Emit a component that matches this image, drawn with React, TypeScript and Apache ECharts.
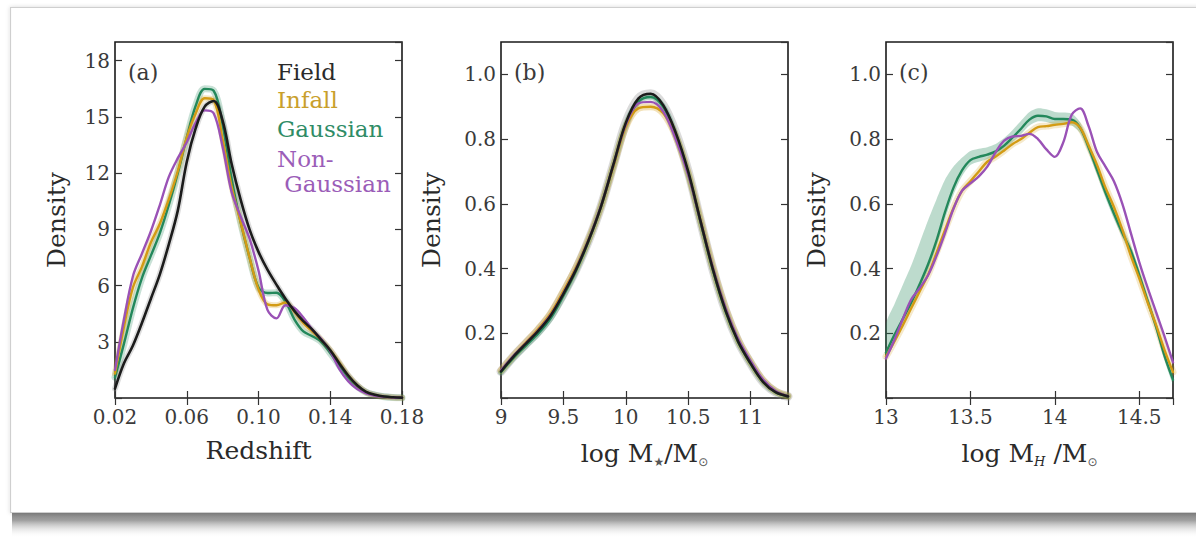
import React, { useEffect, useRef } from 'react';
import * as echarts from 'echarts';

// ---------- Panel (a): Redshift ----------
const Z_GRID = [0.020, 0.025, 0.030, 0.035, 0.040, 0.045, 0.050, 0.055, 0.060, 0.065, 0.070, 0.075, 0.080, 0.085, 0.090, 0.095, 0.100, 0.105, 0.110, 0.115, 0.120, 0.125, 0.130, 0.135, 0.140, 0.145, 0.150, 0.155, 0.160, 0.165, 0.170, 0.175, 0.180];
const FIELD_A = [0.5, 1.85, 2.8, 4.0, 5.3, 6.6, 8.2, 10.0, 12.6, 14.4, 15.55, 15.85, 14.8, 12.5, 10.6, 9.0, 7.8, 6.85, 6.05, 5.3, 4.65, 4.1, 3.65, 3.1, 2.55, 1.85, 1.2, 0.68, 0.33, 0.17, 0.08, 0.04, 0.02];
const INFALL_A = [1.3, 3.8, 5.9, 7.0, 8.3, 9.3, 10.6, 12.1, 13.9, 15.2, 16.0, 15.9, 13.8, 11.3, 9.4, 7.5, 5.8, 5.0, 4.95, 5.1, 4.6, 4.0, 3.55, 3.1, 2.55, 1.9, 1.2, 0.68, 0.3, 0.14, 0.06, 0.03, 0.01];
const GAUSS_A = [1.1, 2.9, 4.8, 6.4, 7.6, 8.8, 10.3, 12.0, 13.9, 15.6, 16.5, 16.4, 14.6, 11.7, 9.4, 7.5, 5.9, 5.6, 5.62, 5.15, 4.2, 3.55, 3.3, 3.0, 2.4, 1.75, 1.1, 0.62, 0.3, 0.15, 0.07, 0.03, 0.01];
const NONG_A = [1.5, 4.2, 6.5, 7.7, 8.9, 10.3, 11.8, 12.8, 13.65, 14.7, 15.35, 15.2, 13.4, 11.0, 9.7, 8.5, 6.8, 4.7, 4.25, 4.95, 4.8, 4.3, 3.65, 3.15, 2.5, 1.55, 0.9, 0.48, 0.25, 0.12, 0.06, 0.03, 0.01];

// ---------- Panel (b): stellar mass ----------
const MS_GRID = [9.0, 9.1, 9.2, 9.3, 9.4, 9.5, 9.6, 9.7, 9.8, 9.9, 10.0, 10.1, 10.2, 10.3, 10.4, 10.5, 10.6, 10.7, 10.8, 10.9, 11.0, 11.1, 11.2, 11.3];
const FIELD_B = [0.082, 0.128, 0.168, 0.208, 0.256, 0.322, 0.396, 0.485, 0.59, 0.72, 0.85, 0.925, 0.94, 0.905, 0.82, 0.70, 0.545, 0.395, 0.27, 0.175, 0.107, 0.05, 0.018, 0.005];
const INFALL_B = [0.085, 0.13, 0.172, 0.214, 0.263, 0.33, 0.402, 0.488, 0.59, 0.715, 0.838, 0.895, 0.9, 0.88, 0.81, 0.695, 0.548, 0.4, 0.276, 0.18, 0.111, 0.055, 0.021, 0.006];
const GAUSS_B = [0.08, 0.124, 0.162, 0.2, 0.248, 0.316, 0.392, 0.483, 0.59, 0.718, 0.845, 0.915, 0.93, 0.9, 0.815, 0.695, 0.542, 0.393, 0.268, 0.174, 0.106, 0.05, 0.018, 0.005];
const NONG_B = [0.086, 0.13, 0.17, 0.21, 0.258, 0.324, 0.398, 0.487, 0.592, 0.72, 0.845, 0.91, 0.915, 0.885, 0.80, 0.69, 0.545, 0.4, 0.278, 0.183, 0.115, 0.057, 0.022, 0.006];

// ---------- Panel (c): halo mass ----------
const MH_GRID = [13.00, 13.05, 13.10, 13.15, 13.20, 13.25, 13.30, 13.35, 13.40, 13.45, 13.50, 13.55, 13.60, 13.65, 13.70, 13.75, 13.80, 13.85, 13.90, 13.95, 14.00, 14.05, 14.10, 14.15, 14.20, 14.25, 14.30, 14.35, 14.40, 14.45, 14.50, 14.55, 14.60, 14.65, 14.70];
const INFALL_C = [0.128, 0.175, 0.225, 0.278, 0.33, 0.382, 0.45, 0.52, 0.587, 0.64, 0.67, 0.70, 0.73, 0.746, 0.765, 0.785, 0.80, 0.82, 0.837, 0.84, 0.844, 0.847, 0.852, 0.835, 0.78, 0.72, 0.65, 0.59, 0.52, 0.44, 0.37, 0.295, 0.225, 0.148, 0.08];
const GAUSS_C = [0.14, 0.195, 0.245, 0.295, 0.352, 0.414, 0.488, 0.575, 0.65, 0.703, 0.735, 0.745, 0.752, 0.762, 0.78, 0.805, 0.832, 0.86, 0.872, 0.87, 0.862, 0.862, 0.86, 0.835, 0.775, 0.705, 0.635, 0.57, 0.51, 0.455, 0.38, 0.30, 0.22, 0.13, 0.056];
const GAUSS_C_LO = [0.125, 0.178, 0.228, 0.28, 0.335, 0.395, 0.468, 0.552, 0.628, 0.685, 0.72, 0.73, 0.738, 0.748, 0.765, 0.79, 0.815, 0.842, 0.855, 0.853, 0.845, 0.845, 0.842, 0.818, 0.758, 0.688, 0.618, 0.553, 0.495, 0.44, 0.365, 0.285, 0.205, 0.115, 0.042];
const GAUSS_C_HI = [0.23, 0.29, 0.35, 0.41, 0.48, 0.55, 0.615, 0.675, 0.715, 0.742, 0.763, 0.77, 0.775, 0.785, 0.803, 0.828, 0.857, 0.884, 0.895, 0.892, 0.884, 0.882, 0.879, 0.852, 0.792, 0.722, 0.652, 0.588, 0.528, 0.472, 0.397, 0.317, 0.237, 0.147, 0.072];
const NONG_C = [0.122, 0.18, 0.245, 0.305, 0.34, 0.38, 0.44, 0.51, 0.585, 0.64, 0.663, 0.685, 0.715, 0.76, 0.795, 0.808, 0.81, 0.816, 0.80, 0.768, 0.745, 0.79, 0.875, 0.895, 0.84, 0.76, 0.715, 0.67, 0.60, 0.51, 0.42, 0.34, 0.265, 0.19, 0.11];

// ---------- Tick / label lists ----------
const X_TICKS_A = [0.02, 0.06, 0.10, 0.14, 0.18];
const Y_TICKS_A = [3, 6, 9, 12, 15, 18];
const X_TICKS_B = [9, 9.5, 10, 10.5, 11];
const X_TICKS_C = [13, 13.5, 14, 14.5];
const Y_TICKS_BC = [0.2, 0.4, 0.6, 0.8, 1.0];
const LEGEND = ['Field', 'Infall', 'Gaussian', 'Non-', ' Gaussian'];
const PANEL_LABELS = ['(a)', '(b)', '(c)'];

const FONT = '"DejaVu Serif", "Liberation Serif", serif';
const C_FIELD = '#1c1c1c';
const C_INFALL = '#d39b14';
const C_GAUSS = '#23885b';
const C_NONG = '#9a52b6';
const TXT = '#3a3a3a';

const GRIDS = [
  { left: 115, top: 42, width: 287, height: 356 },
  { left: 501, top: 42, width: 287, height: 356 },
  { left: 886, top: 42, width: 287, height: 356 },
];

const pairs = (xs: number[], ys: number[]) => xs.map((x, i) => [x, ys[i]]);

function buildOption() {
  const grid = GRIDS.map((g) => ({
    ...g,
    show: true,
    borderColor: '#1a1a1a',
    borderWidth: 1.6,
    backgroundColor: 'transparent',
    outerBoundsMode: 'none',
  }));

  const tickStyle = { show: true, inside: true, length: 7, lineStyle: { color: '#333', width: 1.2 } };
  const labelStyle = { fontFamily: FONT, fontSize: 20, color: TXT };
  const nameStyle = { fontFamily: FONT, fontSize: 25, color: '#2a2a2a' };

  const xCfg = [
    { min: 0.02, max: 0.18, interval: 0.04, ticks: X_TICKS_A, fmt: (v: number) => v.toFixed(2), name: 'Redshift', rich: false },
    { min: 9, max: 11.3, interval: 0.5, ticks: X_TICKS_B, fmt: (v: number) => String(v), name: '{a|log M}{s|★}{a|/M}{s|⊙}', rich: true },
    { min: 13, max: 14.7, interval: 0.5, ticks: X_TICKS_C, fmt: (v: number) => String(v), name: '{a|log M}{h|H}{a| /M}{s|⊙}', rich: true },
  ];
  const yCfg = [
    { min: 0, max: 19, interval: 3, ticks: Y_TICKS_A, fmt: (v: number) => String(v), gap: 46 },
    { min: 0, max: 1.1, interval: 0.2, ticks: Y_TICKS_BC, fmt: (v: number) => v.toFixed(1), gap: 57 },
    { min: 0, max: 1.1, interval: 0.2, ticks: Y_TICKS_BC, fmt: (v: number) => v.toFixed(1), gap: 57 },
  ];

  const richStyles = {
    a: { fontFamily: FONT, fontSize: 25, color: '#2a2a2a', lineHeight: 30, verticalAlign: 'middle' },
    s: { fontFamily: 'DejaVu Sans', fontSize: 12, color: '#555', lineHeight: 14, verticalAlign: 'bottom' },
    h: { fontFamily: FONT, fontSize: 13, fontStyle: 'italic', color: '#2a2a2a', lineHeight: 14, verticalAlign: 'bottom' },
  };

  const xAxis: any[] = [];
  const yAxis: any[] = [];
  xCfg.forEach((c, i) => {
    const hasTick = (v: number) => c.ticks.some((t) => Math.abs(t - v) < 1e-6);
    xAxis.push({
      type: 'value', gridIndex: i, position: 'bottom', min: c.min, max: c.max, interval: c.interval,
      axisLine: { show: false }, axisTick: tickStyle, splitLine: { show: false },
      axisLabel: { ...labelStyle, margin: 9, showMaxLabel: hasTick(c.max), formatter: (v: number) => (hasTick(v) ? c.fmt(v) : '') },
      name: c.name, nameLocation: 'middle', nameGap: 40,
      nameTextStyle: c.rich ? { ...nameStyle, rich: richStyles } : nameStyle,
    });
    xAxis.push({
      type: 'value', gridIndex: i, position: 'top', min: c.min, max: c.max, interval: c.interval,
      axisLine: { show: false }, axisTick: tickStyle, splitLine: { show: false }, axisLabel: { show: false },
    });
  });
  yCfg.forEach((c, i) => {
    const hasTick = (v: number) => c.ticks.some((t) => Math.abs(t - v) < 1e-6);
    yAxis.push({
      type: 'value', gridIndex: i, position: 'left', min: c.min, max: c.max, interval: c.interval,
      axisLine: { show: false }, axisTick: tickStyle, splitLine: { show: false },
      axisLabel: { ...labelStyle, margin: 5, showMaxLabel: false, formatter: (v: number) => (hasTick(v) ? c.fmt(v) : '') },
      name: 'Density', nameLocation: 'middle', nameGap: c.gap, nameRotate: 90, nameTextStyle: nameStyle,
    });
    yAxis.push({
      type: 'value', gridIndex: i, position: 'right', min: c.min, max: c.max, interval: c.interval,
      axisLine: { show: false }, axisTick: tickStyle, splitLine: { show: false }, axisLabel: { show: false },
    });
  });

  const line = (panel: number, xs: number[], ys: number[], color: string, width = 2.4, opacity = 1, z = 3) => ({
    type: 'line', xAxisIndex: panel * 2, yAxisIndex: panel * 2, data: pairs(xs, ys), smooth: 0.35,
    symbol: 'none', silent: true, z,
    lineStyle: { color, width, opacity, cap: 'round', join: 'round' },
  });

  // confidence band polygon drawn through the axes' own scale (api.coord)
  const band = (panel: number, xs: number[], lo: number[], hi: number[], fill: string) => ({
    type: 'custom', xAxisIndex: panel * 2, yAxisIndex: panel * 2, silent: true, z: 1,
    data: [[xs[0], lo[0]]],
    renderItem: (_params: any, api: any) => {
      const pts: number[][] = [];
      xs.forEach((x, i) => pts.push(api.coord([x, hi[i]])));
      for (let i = xs.length - 1; i >= 0; i--) pts.push(api.coord([xs[i], lo[i]]));
      return { type: 'polygon', shape: { points: pts, smooth: 0.25 }, style: { fill } };
    },
  });

  const series: any[] = [
    // panel (a): soft bands then lines
    line(0, Z_GRID, GAUSS_A, C_GAUSS, 7, 0.25, 2),
    line(0, Z_GRID, INFALL_A, C_INFALL, 6, 0.25, 2),
    line(0, Z_GRID, FIELD_A, '#777', 6, 0.25, 2),
    line(0, Z_GRID, GAUSS_A, C_GAUSS),
    line(0, Z_GRID, INFALL_A, C_INFALL),
    line(0, Z_GRID, NONG_A, C_NONG),
    line(0, Z_GRID, FIELD_A, C_FIELD, 2.6),
    // panel (b)
    line(1, MS_GRID, FIELD_B, '#888', 9, 0.3, 2),
    line(1, MS_GRID, GAUSS_B, C_GAUSS, 6, 0.3, 2),
    line(1, MS_GRID, INFALL_B, C_INFALL, 7, 0.3, 2),
    line(1, MS_GRID, GAUSS_B, C_GAUSS),
    line(1, MS_GRID, INFALL_B, C_INFALL),
    line(1, MS_GRID, NONG_B, C_NONG),
    line(1, MS_GRID, FIELD_B, C_FIELD, 2.6),
    // panel (c)
    band(2, MH_GRID, GAUSS_C_LO, GAUSS_C_HI, 'rgba(35,136,91,0.3)'),
    line(2, MH_GRID, INFALL_C, C_INFALL, 7, 0.22, 2),
    line(2, MH_GRID, GAUSS_C, C_GAUSS),
    line(2, MH_GRID, INFALL_C, C_INFALL),
    line(2, MH_GRID, NONG_C, C_NONG),
  ];

  const legendColors = ['#2a2a2a', '#c99f2c', '#2f8c66', '#9b5db8', '#9b5db8'];
  const legendY = [72, 100, 129, 159, 184];
  const legendX = [277, 277, 277, 277, 277];

  const graphic: any[] = [
    {
      type: 'rect', z: -20, silent: true,
      shape: { x: 12, y: 506, width: 1196, height: 32 },
      style: {
        fill: new echarts.graphic.LinearGradient(0, 0, 0, 1, [
          { offset: 0, color: '#666666' },
          { offset: 0.45, color: '#a0a0a0' },
          { offset: 1, color: 'rgba(255,255,255,0)' },
        ]),
      },
    },
    {
      type: 'rect', z: -10, silent: true,
      shape: { x: 10.5, y: 7.5, width: 1200, height: 505 },
      style: { fill: '#ffffff', stroke: '#cfcfcf', lineWidth: 1.2, shadowBlur: 4, shadowColor: 'rgba(0,0,0,0.15)' },
    },
    ...PANEL_LABELS.map((t, i) => ({
      type: 'text', z: 10, silent: true,
      style: { text: t, x: GRIDS[i].left + 13, y: 72, fill: TXT, font: `22px ${FONT}`, verticalAlign: 'middle', textVerticalAlign: 'middle' },
    })),
    ...LEGEND.map((t, i) => ({
      type: 'text', z: 10, silent: true,
      style: { text: t, x: legendX[i], y: legendY[i], fill: legendColors[i], font: `23px ${FONT}`, verticalAlign: 'middle', textVerticalAlign: 'middle' },
    })),
  ];

  return {
    animation: false,
    backgroundColor: '#ffffff',
    grid,
    xAxis,
    yAxis,
    series,
    graphic,
  };
}

export default function App() {
  const ref = useRef<HTMLDivElement>(null);
  useEffect(() => {
    if (!ref.current) return;
    const chart = echarts.init(ref.current, null, { renderer: 'svg' });
    chart.setOption(buildOption() as any);
    return () => chart.dispose();
  }, []);
  return (
    <div
      ref={ref}
      style={{ position: 'fixed', left: 0, top: 0, width: 1196, height: 543, background: '#fff' }}
    />
  );
}
